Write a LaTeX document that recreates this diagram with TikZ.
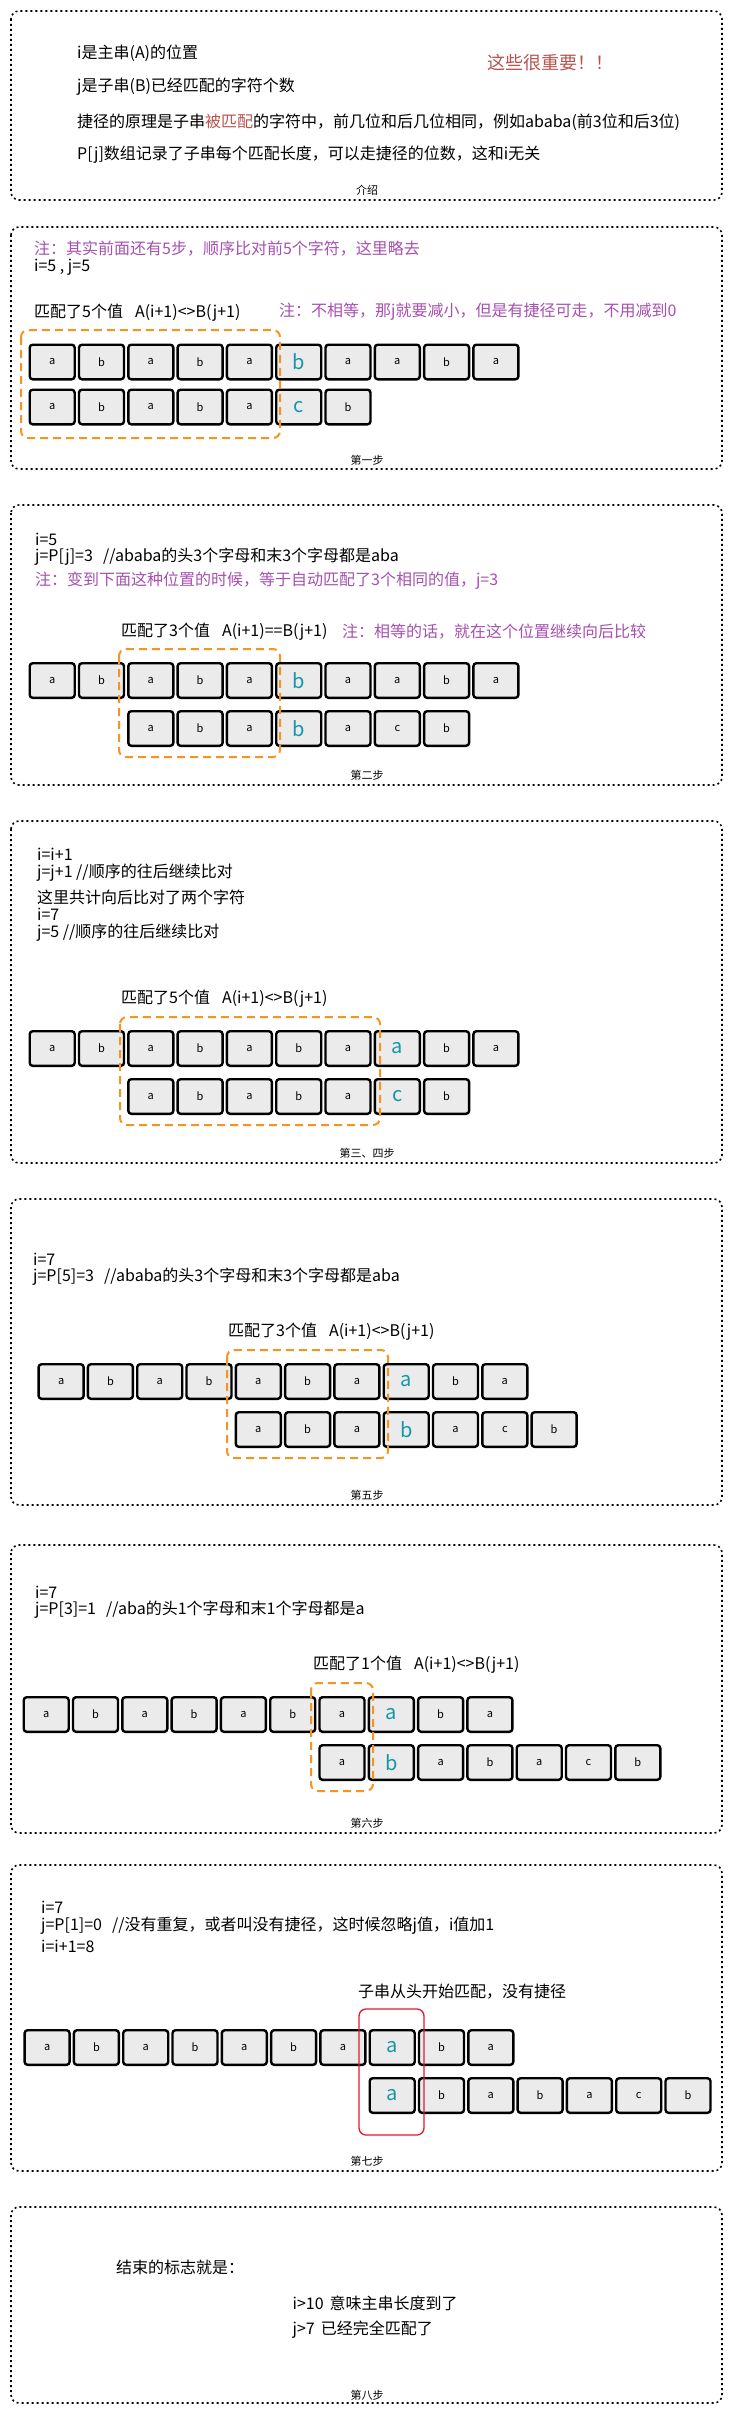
\documentclass[tikz,border=0pt]{standalone}
\usepackage{fontspec}
\setmainfont{Noto Sans CJK SC}
\definecolor{cellgray}{RGB}{235,235,235}
\definecolor{tealc}{RGB}{21,151,168}
\definecolor{purp}{RGB}{166,80,176}
\definecolor{redt}{RGB}{184,84,80}
\definecolor{orng}{RGB}{247,148,29}
\definecolor{redbox}{RGB}{220,30,40}
\newcommand\cellrow[4]{%
  \foreach \ch/\st [count=\k from 0] in {#4} {%
    \node[cellbox,\st] (#1-\k) at ({#2+23.7+49.3*\k},#3) {\ch};}}
\begin{document}
\begin{tikzpicture}[x=1pt,y=-1pt,
  cellbox/.style={draw, line width=2.4pt, rounded corners=3pt, fill=cellgray,
    minimum width=45pt, minimum height=34.6pt, inner sep=0pt,
    font=\fontsize{11}{12}\selectfont},
  nc/.style={},
  hc/.style={text=tealc, font=\fontsize{20}{22}\selectfont},
  txt/.style={anchor=west, inner sep=0pt, font=\fontsize{16}{19}\selectfont},
  note/.style={txt, text=purp},
  lbl/.style={inner sep=0pt, font=\fontsize{11}{12}\selectfont},
  stepframe/.style={draw, line width=1.6pt, dash pattern=on 2pt off 3pt, rounded corners=8pt},
  matchbox/.style={draw=orng, line width=2pt, dash pattern=on 8pt off 5pt, rounded corners=7pt},
  restartbox/.style={draw=redbox, line width=1.3pt, rounded corners=7pt}]
\useasboundingbox (0,0) rectangle (733,2416);
\fill[white] (0,0) rectangle (733,2416);

% ---------- frames ----------
\draw[stepframe] (11,11) rectangle (722,200);
\draw[stepframe] (11,227) rectangle (722,469);
\draw[stepframe] (11,505) rectangle (722,785);
\draw[stepframe] (11,821) rectangle (722,1163);
\draw[stepframe] (11,1199) rectangle (722,1505);
\draw[stepframe] (11,1545) rectangle (722,1833);
\draw[stepframe] (11,1865) rectangle (722,2171);
\draw[stepframe] (11,2207) rectangle (722,2403);

\node[lbl] (l1) at (367,190) {介绍};
\node[lbl] (l2) at (367,460) {第一步};
\node[lbl] (l3) at (367,775) {第二步};
\node[lbl] (l4) at (367,1153) {第三、四步};
\node[lbl] (l5) at (367,1495) {第五步};
\node[lbl] (l6) at (367,1823) {第六步};
\node[lbl] (l7) at (367,2161) {第七步};
\node[lbl] (l8) at (367,2395) {第八步};

% ---------- intro ----------
\node[txt] (t1a) at (77,53) {i是主串(A)的位置};
\node[txt] (t1b) at (77,87) {j是子串(B)已经匹配的字符个数};
\node[txt] (t1c) at (77,122) {捷径的原理是子串\textcolor{redt}{被匹配}的字符中，前几位和后几位相同，例如ababa(前3位和后3位)};
\node[txt] (t1d) at (77,155) {P[j]数组记录了子串每个匹配长度，可以走捷径的位数，这和i无关};
\node[txt, text=redt, font=\fontsize{18}{21}\selectfont] (t1e) at (487,63) {这些很重要！！};

% ---------- step 1 ----------
\node[note] (t2a) at (34,249) {注：其实前面还有5步，顺序比对前5个字符，这里略去};
\node[txt] (t2b) at (34,267) {i=5 , j=5};
\node[txt] (t2c) at (34,313) {匹配了5个值\hspace{12pt}A(i+1)<>B(j+1)};
\node[note] (t2d) at (279,312) {注：不相等，那j就要减小，但是有捷径可走，不用减到0};
\cellrow{s1a}{28.5}{362}{a/nc,b/nc,a/nc,b/nc,a/nc,b/hc,a/nc,a/nc,b/nc,a/nc}
\cellrow{s1b}{28.5}{407}{a/nc,b/nc,a/nc,b/nc,a/nc,c/hc,b/nc}
\draw[matchbox] (21,330) rectangle (280,438);

% ---------- step 2 ----------
\node[txt] (t3a) at (35,539) {i=5};
\node[txt] (t3b) at (35,557) {j=P[j]=3\hspace{10pt}//ababa的头3个字母和末3个字母都是aba};
\node[note] (t3c) at (35,581) {注：变到下面这种位置的时候，等于自动匹配了3个相同的值，j=3};
\node[txt] (t3d) at (121,632) {匹配了3个值\hspace{12pt}A(i+1)==B(j+1)};
\node[note] (t3e) at (342,632) {注：相等的话，就在这个位置继续向后比较};
\cellrow{s2a}{28.5}{680.5}{a/nc,b/nc,a/nc,b/nc,a/nc,b/hc,a/nc,a/nc,b/nc,a/nc}
\cellrow{s2b}{127.1}{728.5}{a/nc,b/nc,a/nc,b/hc,a/nc,c/nc,b/nc}
\draw[matchbox] (119,649) rectangle (280,757);

% ---------- step 3/4 ----------
\node[txt] (t4a) at (37,854) {i=i+1};
\node[txt] (t4b) at (37,873) {j=j+1 //顺序的往后继续比对};
\node[txt] (t4c) at (37,897) {这里共计向后比对了两个字符};
\node[txt] (t4d) at (37,914) {i=7};
\node[txt] (t4e) at (37,933) {j=5 //顺序的往后继续比对};
\node[txt] (t4f) at (121,999) {匹配了5个值\hspace{12pt}A(i+1)<>B(j+1)};
\cellrow{s3a}{28.5}{1048.5}{a/nc,b/nc,a/nc,b/nc,a/nc,b/nc,a/nc,a/hc,b/nc,a/nc}
\cellrow{s3b}{127.1}{1096.5}{a/nc,b/nc,a/nc,b/nc,a/nc,c/hc,b/nc}
\draw[matchbox] (120,1017) rectangle (380,1125);

% ---------- step 5 ----------
\node[txt] (t5a) at (33,1259) {i=7};
\node[txt] (t5b) at (33,1277) {j=P[5]=3\hspace{10pt}//ababa的头3个字母和末3个字母都是aba};
\node[txt] (t5c) at (228,1332) {匹配了3个值\hspace{12pt}A(i+1)<>B(j+1)};
\cellrow{s5a}{37.4}{1381.5}{a/nc,b/nc,a/nc,b/nc,a/nc,b/nc,a/nc,a/hc,b/nc,a/nc}
\cellrow{s5b}{234.6}{1429.5}{a/nc,b/nc,a/nc,b/hc,a/nc,c/nc,b/nc}
\draw[matchbox] (227,1350) rectangle (388,1458);

% ---------- step 6 ----------
\node[txt] (t6a) at (35,1592) {i=7};
\node[txt] (t6b) at (35,1610) {j=P[3]=1\hspace{10pt}//aba的头1个字母和末1个字母都是a};
\node[txt] (t6c) at (313,1665) {匹配了1个值\hspace{12pt}A(i+1)<>B(j+1)};
\cellrow{s6a}{22.5}{1714.5}{a/nc,b/nc,a/nc,b/nc,a/nc,b/nc,a/nc,a/hc,b/nc,a/nc}
\cellrow{s6b}{318.3}{1762.5}{a/nc,b/hc,a/nc,b/nc,a/nc,c/nc,b/nc}
\draw[matchbox] (311,1683) rectangle (373,1791);

% ---------- step 7 ----------
\node[txt] (t7a) at (41,1907) {i=7};
\node[txt] (t7b) at (41,1926) {j=P[1]=0\hspace{10pt}//没有重复，或者叫没有捷径，这时候忽略j值，i值加1};
\node[txt] (t7c) at (41,1946) {i=i+1=8};
\node[txt] (t7d) at (358,1992) {子串从头开始匹配，没有捷径};
\cellrow{s7a}{23.4}{2047.5}{a/nc,b/nc,a/nc,b/nc,a/nc,b/nc,a/nc,a/hc,b/nc,a/nc}
\cellrow{s7b}{368.5}{2095.5}{a/hc,b/nc,a/nc,b/nc,a/nc,c/nc,b/nc}
\draw[restartbox] (359,2009) rectangle (424,2135);

% ---------- step 8 ----------
\node[txt] (t8a) at (116,2267) {结束的标志就是：};
\node[txt] (t8b) at (292.5,2303) {i>10\hspace{6pt}意味主串长度到了};
\node[txt] (t8c) at (292.5,2330) {j>7\hspace{6pt}已经完全匹配了};
\end{tikzpicture}
\end{document}
